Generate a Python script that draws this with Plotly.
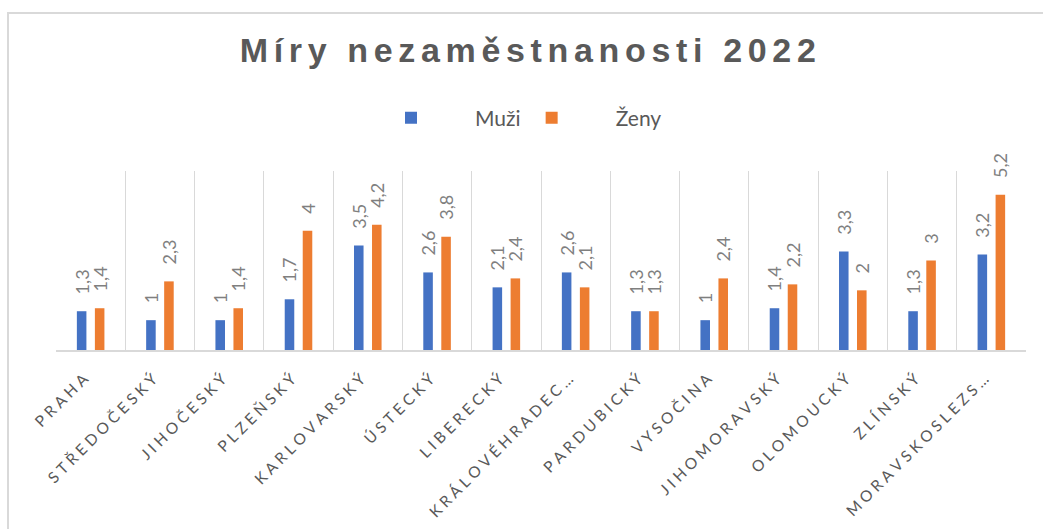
import plotly.graph_objects as go

categories = ["Praha", "Středočeský", "Jihočeský", "Plzeňský", "Karlovarský", "Ústecký",
              "Liberecký", "Královéhradecký", "Pardubický", "Vysočina", "Jihomoravský",
              "Olomoucký", "Zlínský", "Moravskoslezský"]
muzi = [1.3, 1.0, 1.0, 1.7, 3.5, 2.6, 2.1, 2.6, 1.3, 1.0, 1.4, 3.3, 1.3, 3.2]
zeny = [1.4, 2.3, 1.4, 4.0, 4.2, 3.8, 2.4, 2.1, 1.3, 2.4, 2.2, 2.0, 3.0, 5.2]
series_names = ["Muži", "Ženy"]
title_text = "Míry nezaměstnanosti 2022"

BLUE = "#4472C4"
ORANGE = "#ED7D31"
GRID = "#D9D9D9"
TXT = "#595959"
LBL = "#7F7F7F"


def spaced(s, sep):
    return sep.join(list(s))


def tick_label(s):
    u = s.upper()
    if len(u) > 13:
        u = u[:13] + "…"
    return spaced(u, "\u2005")


ticktext = [tick_label(c) for c in categories]

fig = go.Figure()
for name, vals, col, lg in [(series_names[0], muzi, BLUE, "legend"),
                            (series_names[1], zeny, ORANGE, "legend2")]:
    fig.add_trace(go.Bar(
        x=categories, y=vals, name=name, legend=lg,
        marker=dict(color=col, line=dict(width=0)),
        texttemplate="\u00a0\u00a0\u00a0%{y}",
        textposition="outside", textangle=-90,
        constraintext="none", cliponaxis=False,
        textfont=dict(family="Lato, Open Sans, sans-serif", size=18, color=LBL),
        hoverinfo="x+y",
    ))

legend_font = dict(family="Lato, Open Sans, sans-serif", size=21, color=TXT)

fig.update_layout(
    width=1043, height=529,
    margin=dict(l=56, r=17, t=171, b=179, autoexpand=False),
    paper_bgcolor="white", plot_bgcolor="white",
    separators=", ",
    barmode="group", bargap=0.48, bargroupgap=0.47,
    title=dict(
        text=spaced(title_text, "\u2006"),
        font=dict(family="Liberation Sans, Arial, sans-serif",
                  size=34, color=TXT, weight="bold"),
        x=0.506, xref="container", xanchor="center",
        y=1 - 50 / 529, yref="container", yanchor="middle",
    ),
    legend=dict(
        orientation="h", x=0.30, xanchor="left", y=1.296, yanchor="middle",
        font=legend_font, itemwidth=118, bgcolor="rgba(0,0,0,0)",
    ),
    legend2=dict(
        orientation="h", x=0.445, xanchor="left", y=1.296, yanchor="middle",
        font=legend_font, itemwidth=118, bgcolor="rgba(0,0,0,0)",
    ),
    xaxis=dict(
        type="category", tickmode="array", tickvals=categories, ticktext=ticktext,
        tickangle=-45, showgrid=True, gridcolor=GRID, gridwidth=1,
        tickson="boundaries", ticks="", showline=True, linecolor=GRID, linewidth=2,
        tickfont=dict(family="Lato, Open Sans, sans-serif", size=15.5, color=TXT),
        zeroline=False, automargin=False,
        ticklabelstandoff=12, ticklabelshift=-7,
    ),
    yaxis=dict(range=[0, 6], visible=False, showgrid=False, zeroline=False),
    showlegend=True,
    shapes=[dict(type="rect", xref="paper", yref="paper",
                 x0=(8 - 56) / 970, x1=1.2, y0=-2, y1=(350 - 13) / 179,
                 line=dict(color=GRID, width=2), fillcolor="rgba(0,0,0,0)", layer="below")],
)

fig.write_html("out.html", config={"displayModeBar": False},
               post_script="document.body.style.margin='0';")
